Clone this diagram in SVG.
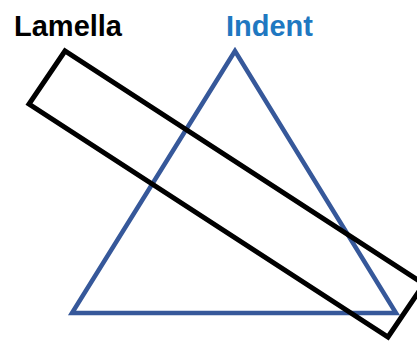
<svg xmlns="http://www.w3.org/2000/svg" width="417" height="342" viewBox="0 0 417 342">
<style>
.lbl{font-family:"Liberation Sans",Arial,sans-serif;font-weight:bold;font-size:29px}
.lam{fill:none;stroke:#000;stroke-width:5;stroke-linejoin:miter}
.ind{fill:none;stroke:#36589a;stroke-width:4.5;stroke-linejoin:miter}
</style>
<rect width="417" height="342" fill="#fff"/>
<g id="indent">
<polygon class="ind" points="235,51 72,313 396,313"/>
<text class="lbl" x="226" y="36" fill="#1f78c1">Indent</text>
</g>
<g id="lamella">
<polygon class="lam" points="65,51 29,104 388,337 424,284"/>
<text class="lbl" x="14" y="36" fill="#000">Lamella</text>
</g>
<g id="connectors"></g>
</svg>
